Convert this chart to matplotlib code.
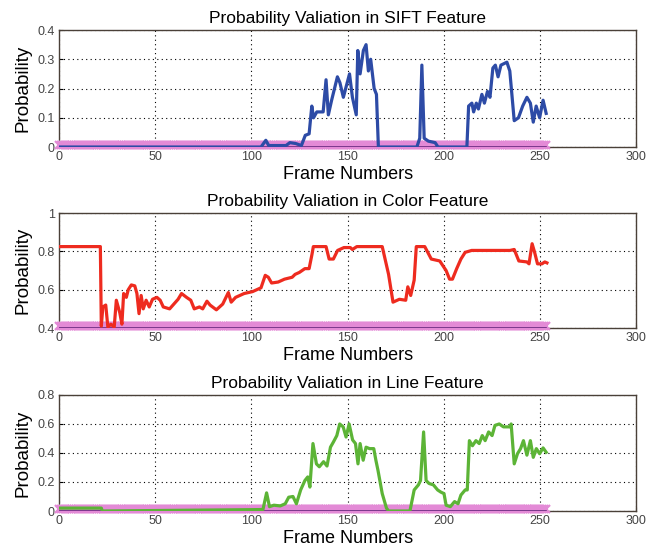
import numpy as np
import matplotlib
matplotlib.use("Agg")
import matplotlib.pyplot as plt

plt.rcParams['font.family'] = ['Liberation Sans', 'DejaVu Sans']

# frame axis for the marker rows
n_frames = 254
frames_all = np.arange(n_frames)

# SIFT feature probability (vertices of the polyline)
sift_x = [0, 105, 107.5, 109, 118, 120, 123, 126, 128, 130, 131.4, 132.3, 134, 136, 137.3,
          138.8, 140, 141.7, 144.7, 146, 147.8, 151, 152.5, 154.5, 155.3, 156.5, 158.2,
          159.6, 160.8, 162, 163.8, 165, 166, 186, 187.5, 188.6, 189.8, 192, 195.5, 197,
          212, 212.9, 214.6, 215.5, 216.9, 218, 219.8, 221.1, 222.7, 224, 225.5, 226.8,
          228.2, 229.7, 232.8, 234.3, 236.6, 238.8, 241, 243.2, 245, 246.5, 248, 249.8,
          251.6, 253.2]
sift_y = [0, 0, 0.023, 0.005, 0.005, 0.015, 0.012, 0.005, 0.04, 0.045, 0.14, 0.1, 0.12,
          0.12, 0.12, 0.23, 0.11, 0.16, 0.24, 0.22, 0.17, 0.25, 0.17, 0.11, 0.33, 0.25, 0.33,
          0.35, 0.26, 0.3, 0.2, 0.18, 0, 0, 0.03, 0.28, 0.03, 0.02, 0.015, 0, 0, 0.14, 0.15,
          0.12, 0.15, 0.13, 0.18, 0.15, 0.19, 0.17, 0.27, 0.28, 0.24, 0.28, 0.29, 0.26, 0.09,
          0.1, 0.14, 0.17, 0.15, 0.085, 0.14, 0.1, 0.16, 0.115]

# Color feature probability
color_x = [0, 21.5, 22, 22.8, 24.3, 25.4, 27, 28.7, 29.8, 31.6, 32.7, 33.6, 35, 36, 37.6,
           39.4, 40.5, 41.6, 42.7, 43.8, 45.3, 46.9, 48.6, 50.9, 52.6, 54.2, 57.5, 59.7,
           61.9, 63.7, 66.3, 68.5, 70.3, 73, 74.7, 76.9, 78.5, 81.8, 85.1, 88, 89.5, 91.8,
           96.2, 100.6, 105, 107.2, 108.8, 110.5, 113.9, 117.2, 121.2, 122.7, 124.9, 127.8,
           130, 131.5, 132.2, 138.8, 140.4, 142.6, 144.8, 148.1, 151.4, 152.5, 154.8, 168,
           171.3, 173.6, 176.9, 180.2, 181.3, 182.8, 184.6, 185.7, 190.1, 193.5, 197.9,
           201.2, 203, 204.5, 206.7, 208.9, 211.1, 214.5, 223.3, 234.4, 236.6, 239, 243.2,
           244.3, 245.9, 247.2, 248.7, 251, 252.5, 253.6]
color_y = [0.825, 0.825, 0.41, 0.51, 0.52, 0.405, 0.42, 0.405, 0.545, 0.48, 0.42, 0.58,
           0.56, 0.6, 0.625, 0.62, 0.58, 0.475, 0.57, 0.5, 0.545, 0.51, 0.55, 0.56, 0.545,
           0.51, 0.5, 0.525, 0.55, 0.58, 0.56, 0.545, 0.5, 0.51, 0.5, 0.54, 0.52, 0.495,
           0.525, 0.585, 0.535, 0.56, 0.58, 0.59, 0.61, 0.675, 0.665, 0.635, 0.64, 0.655,
           0.665, 0.68, 0.69, 0.71, 0.71, 0.785, 0.825, 0.825, 0.76, 0.76, 0.805, 0.82, 0.82,
           0.81, 0.825, 0.825, 0.68, 0.535, 0.55, 0.545, 0.615, 0.57, 0.65, 0.825, 0.825,
           0.76, 0.75, 0.7, 0.655, 0.655, 0.71, 0.76, 0.795, 0.805, 0.805, 0.805, 0.81, 0.75,
           0.745, 0.735, 0.84, 0.795, 0.735, 0.735, 0.745, 0.74]

# Line feature probability
line_x = [0, 22, 22.5, 106, 107.9, 109.4, 111.7, 115, 117.6, 119.4, 121.6, 123.4, 125.6,
          127.8, 129.3, 130.4, 132, 133.8, 135.3, 137.5, 139.3, 141.1, 142.6, 144.4, 145.9,
          147.7, 149.2, 150.8, 152.6, 154.1, 155.4, 156.5, 158.1, 159.6, 161.4, 163.6,
          164.7, 165.8, 168, 170.2, 171.3, 182.4, 184.6, 186.8, 187.9, 189.5, 190.8, 192.3,
          194.6, 196.8, 198.5, 200.1, 201.2, 203.4, 205.6, 207.4, 208.9, 211.1, 212.2,
          213.3, 214.9, 216.7, 218.4, 220, 221.5, 223.3, 225.1, 226.6, 228.8, 231, 234.4,
          235, 236.6, 238.3, 239.9, 241.4, 243.2, 245, 246.5, 248.1, 249.8, 251.6, 253.2]
line_y = [0.02, 0.02, 0, 0.01, 0.125, 0.03, 0.04, 0.035, 0.05, 0.095, 0.1, 0.05, 0.145,
          0.21, 0.235, 0.165, 0.465, 0.325, 0.305, 0.34, 0.31, 0.44, 0.475, 0.52, 0.6, 0.58,
          0.51, 0.6, 0.49, 0.465, 0.325, 0.465, 0.35, 0.44, 0.43, 0.43, 0.35, 0.28, 0.12,
          0.02, 0, 0, 0.145, 0.18, 0.21, 0.545, 0.21, 0.19, 0.18, 0.145, 0.13, 0.12, 0.04,
          0.03, 0.065, 0.05, 0.11, 0.145, 0.145, 0.485, 0.45, 0.485, 0.465, 0.52, 0.485,
          0.545, 0.52, 0.59, 0.6, 0.58, 0.58, 0.6, 0.325, 0.395, 0.43, 0.485, 0.385, 0.485,
          0.37, 0.43, 0.395, 0.435, 0.405]

panels = [
    ("Probability Valiation in SIFT Feature", sift_x, sift_y, "#2d4ba6", (0, 0.4), [0, 0.1, 0.2, 0.3, 0.4]),
    ("Probability Valiation in Color Feature", color_x, color_y, "#ee2b1f", (0.4, 1.0), [0.4, 0.6, 0.8, 1]),
    ("Probability Valiation in Line Feature", line_x, line_y, "#5cb436", (0, 0.8), [0, 0.2, 0.4, 0.6, 0.8]),
]
tick_labels = [["0", "0.1", "0.2", "0.3", "0.4"], ["0.4", "0.6", "0.8", "1"], ["0", "0.2", "0.4", "0.6", "0.8"]]

fig = plt.figure(figsize=(6.65, 5.5), dpi=100)
bottoms = [0.7327, 0.4036, 0.0709]
heights = [0.2127, 0.209, 0.211]

for i, (title, xs, ys, col, ylim, yt) in enumerate(panels):
    ax = fig.add_axes([0.0887, bottoms[i], 0.868, heights[i]])
    base = ylim[0]
    ax.plot(frames_all, np.full(n_frames, base + 0.006 * (ylim[1] - ylim[0]) / 0.4),
            ls="none", marker="x", ms=5.5, mew=1.6, color="#e38ad6", zorder=3, clip_on=False)
    ax.plot(frames_all, np.full(n_frames, base), color="#6a2a80", lw=1.2, zorder=3.5)
    ax.plot(xs, ys, color=col, lw=2.3, zorder=4)
    ax.set_xlim(0, 300)
    ax.set_ylim(*ylim)
    ax.set_xticks([0, 50, 100, 150, 200, 250, 300])
    ax.set_yticks(yt)
    ax.set_yticklabels(tick_labels[i])
    ax.grid(True, color="black", ls=(0, (1, 3)), lw=0.8)
    ax.tick_params(direction="in", labelsize=9, labelcolor="#444444", length=3, pad=3)
    for s in ax.spines.values():
        s.set_color("#4a4038")
        s.set_linewidth(1.0)
    ax.set_title(title, fontsize=12.5, pad=5)
    ax.set_xlabel("Frame Numbers", fontsize=13, labelpad=2)
    ax.set_ylabel("Probability", fontsize=13.5, labelpad=4)

fig.savefig("out.png", dpi=100)
